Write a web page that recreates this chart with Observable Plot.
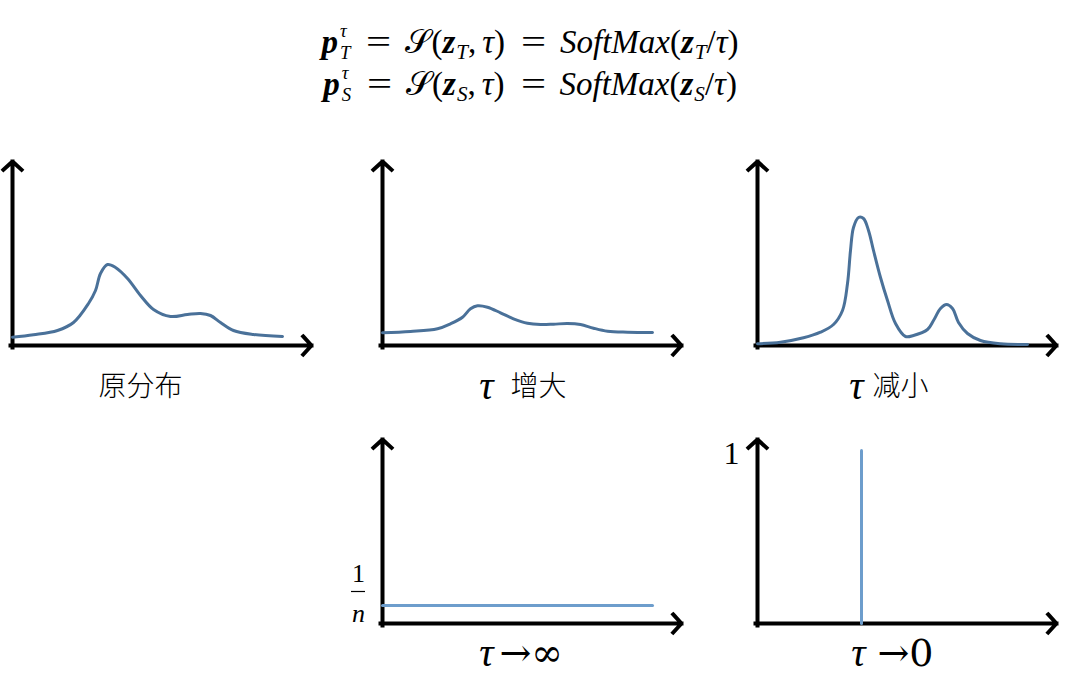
<!DOCTYPE html>
<html><head><meta charset="utf-8">
<script src="https://cdn.jsdelivr.net/npm/d3@7"></script>
<script src="https://cdn.jsdelivr.net/npm/@observablehq/plot@0.6"></script>
<style>
body{margin:0;background:#fff;}
#root{position:relative;width:1069px;height:690px;overflow:hidden;background:#fff;}
.eq{position:absolute;left:0;width:1060px;text-align:center;font-family:"Liberation Serif","Times New Roman",serif;font-size:33px;color:#000;white-space:nowrap;line-height:36px;}
.ss{display:inline-block;vertical-align:-6px;line-height:1.16;font-size:0.57em;margin-left:2px;text-align:left;}
.ss span{display:block;}
.eq sub{font-size:0.64em;vertical-align:-0.3em;line-height:0;margin-left:1px;}
.op{display:inline-block;width:23px;text-align:center;margin:0 15px 0 17px;transform:scaleX(1.35);}
.sp{margin-left:6px;}
.panel{position:absolute;}
.panel svg{max-width:none !important;display:block;}
</style></head>
<body><div id="root">
<div class="eq" style="top:20px"><b><i>p</i></b><span class="ss"><span><i>τ</i></span><span><i>T</i></span></span><span class="op">=</span>𝒮(<b><i>z</i></b><sub><i>T</i></sub>,<span class="sp"></span><i>τ</i>)<span class="op">=</span><i>SoftMax</i>(<b><i>z</i></b><sub><i>T</i></sub>/<i>τ</i>)</div>
<div class="eq" style="top:62px"><b><i>p</i></b><span class="ss"><span><i>τ</i></span><span><i>S</i></span></span><span class="op">=</span>𝒮(<b><i>z</i></b><sub><i>S</i></sub>,<span class="sp"></span><i>τ</i>)<span class="op">=</span><i>SoftMax</i>(<b><i>z</i></b><sub><i>S</i></sub>/<i>τ</i>)</div>
</div>
<script>
// ---- data (x along the horizontal axis, y height above it) ----
const origX = [0, 21, 45, 61, 76, 83, 88, 95, 103, 115, 128, 141, 158, 175, 188, 198, 208, 221, 241, 270];
const origY = [8.3, 10.7, 15, 23, 42, 55, 72, 81, 78, 67, 50, 36, 29, 31, 32, 30, 23, 15, 11, 9];

const hotX = [0, 28, 55, 68, 80, 88, 95, 105, 118, 131, 145, 158, 171, 185, 198, 211, 225, 245, 270];
const hotY = [12.7, 14, 16.7, 21.7, 28.3, 36.7, 39.7, 38.3, 32.7, 26.7, 22.3, 21, 21.3, 22, 21, 17.3, 14.3, 13.3, 13];

const coldX = [0, 23, 46, 63, 76, 85, 90, 93, 96, 101, 106, 111, 116, 123, 130, 138, 148, 156, 170, 176, 183, 189, 195, 201, 210, 223, 243, 270];
const coldY = [1.7, 3.3, 7.7, 13.3, 21, 35, 62, 95, 118, 128, 127, 115, 95, 68, 45, 22, 9, 10, 16, 25, 37, 41, 37, 23, 12, 5, 1.7, 1];

const uniformX = [0, 270];
const uniformY = [18, 18];

const spikeX = [104, 104];
const spikeY = [0, 173];

const labels = ["原分布", "增大", "减小", "→∞", "→0"];
const tickLabels = ["1", "n", "1"];

// ---- layout ----
const ML = 50, MT = 20, MR = 20, MB = 70, XD = 302, YD = 185;
const curveColor = "#4a7199", flatColor = "#6d9dcc";
const root = document.getElementById("root");

function axes() {
  return Plot.arrow([{x1: -2, y1: 0, x2: 299, y2: 0}, {x1: 0, y1: -2, x2: 0, y2: 184}],
    {x1: "x1", y1: "y1", x2: "x2", y2: "y2", stroke: "#000", strokeWidth: 4,
     headLength: 4.6, headAngle: 95, strokeLinejoin: "miter", strokeLinecap: "square"});
}
function serif(text, x, y, size, opts = {}) {
  return Plot.text([text], {x: () => x, y: () => y, text: d => d, fontFamily: "Liberation Serif, Times New Roman, serif", fontSize: size, fill: "#000", ...opts});
}
function cjk(text, x, y, anchor, spacing) {
  return Plot.text([text], {x: () => x, y: () => y, text: d => d, fontFamily: "Noto Sans CJK SC", fontSize: 28, fontWeight: 300, fill: "#000", textAnchor: anchor, style: `letter-spacing:${spacing}px`});
}
function panel(ox, oy, marks) {
  const svg = Plot.plot({
    width: ML + XD + MR, height: MT + YD + MB,
    marginLeft: ML, marginTop: MT, marginRight: MR, marginBottom: MB,
    x: {domain: [0, XD], axis: null}, y: {domain: [0, YD], axis: null},
    style: {background: "transparent", overflow: "visible", maxWidth: "none"},
    marks: [axes(), ...marks]
  });
  const wrap = document.createElement("div");
  wrap.className = "panel";
  wrap.style.left = (ox - ML) + "px";
  wrap.style.top = (oy - YD - MT) + "px";
  wrap.style.width = (ML + XD + MR) + "px";
  wrap.appendChild(svg);
  root.appendChild(wrap);
}

panel(12, 345, [
  Plot.line(origY, {x: origX, y: origY, curve: "catmull-rom", stroke: curveColor, strokeWidth: 3}),
  cjk(labels[0], 128, -42, "middle", 5)
]);
panel(382, 345, [
  Plot.line(hotY, {x: hotX, y: hotY, curve: "catmull-rom", stroke: curveColor, strokeWidth: 3}),
  serif("τ", 104, -41, 40, {fontStyle: "italic"}),
  cjk(labels[1], 128, -42, "start", 5)
]);
panel(757, 345, [
  Plot.line(coldY, {x: coldX, y: coldY, curve: "catmull-rom", stroke: curveColor, strokeWidth: 3}),
  serif("τ", 99, -41, 40, {fontStyle: "italic"}),
  cjk(labels[2], 115, -42, "start", 3)
]);
panel(382, 623, [
  Plot.line(uniformY, {x: uniformX, y: uniformY, stroke: flatColor, strokeWidth: 3}),
  serif(tickLabels[0], -24, 50, 26),
  Plot.ruleY([32], {x1: -31, x2: -17, stroke: "#000", strokeWidth: 1.2}),
  serif(tickLabels[1], -24, 10, 26, {fontStyle: "italic"}),
  serif("τ", 104, -30, 40, {fontStyle: "italic"}),
  serif(labels[3], 117, -30, 38, {textAnchor: "start", fontFamily: "DejaVu Serif"})
]);
panel(757, 623, [
  Plot.line(spikeY, {x: spikeX, y: spikeY, stroke: flatColor, strokeWidth: 3}),
  serif(tickLabels[2], -26, 170, 32),
  serif("τ", 101, -30, 40, {fontStyle: "italic"}),
  serif(labels[4], 120, -30, 38, {textAnchor: "start", fontFamily: "DejaVu Serif"})
]);
</script>
</body></html>
